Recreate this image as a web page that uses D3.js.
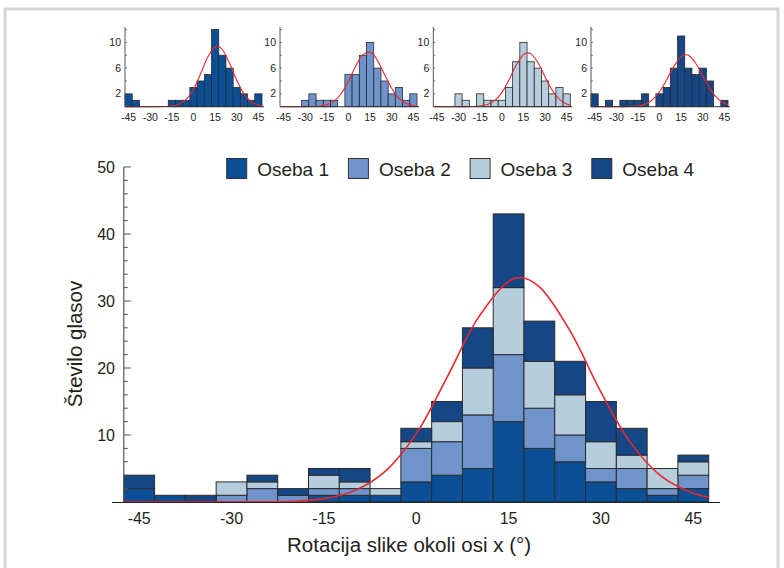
<!DOCTYPE html>
<html>
<head>
<meta charset="utf-8">
<title>Rotacija slike</title>
<style>
  body { margin: 0; background: #fff; }
  svg { display: block; font-family: Arial, "Liberation Sans", sans-serif; }
  .lbl { fill: #231f20; }
</style>
</head>
<body>
<svg id="chart" width="784" height="568"></svg>
<script src="https://d3js.org/d3.v7.min.js"></script>
<script>
// histogram bins (bin centres, degrees), bin width 5
const bins = [-45,-40,-35,-30,-25,-20,-15,-10,-5,0,5,10,15,20,25,30,35,40,45];
const oseba1 = [2,1,0,0,0,0,1,1,1,3,4,5,12,8,6,3,2,1,2];
const oseba2 = [0,0,0,1,2,1,1,1,0,5,5,8,10,6,4,2,3,1,2];
const oseba3 = [0,0,0,2,1,0,2,1,1,1,3,7,10,7,6,4,2,3,2];
const oseba4 = [2,0,1,0,1,1,1,2,0,2,3,6,11,6,5,6,4,0,1];
const names = ['Oseba 1','Oseba 2','Oseba 3','Oseba 4'];
const colors = ['#0a4f96','#6f93cb','#b5cddd','#154686'];

// red fitted curves
const curveX = [-47.5,-40,-35,-30,-25,-20,-15,-10,-5,0,5,10,15,17,20,25,30,35,40,45,47.5];
const curveAll = [0,0,0,0,0.02,0.12,0.5,1.7,4.6,10.2,18.6,27.4,32.9,33.5,32.1,25.5,16.4,8.6,3.7,1.3,0.7];
const curve1 = [0,0,0,0,0,0.02,0.1,0.39,1.15,2.73,5.16,7.76,9.3,9.4,8.9,6.77,4.1,1.99,0.77,0.24,0.12];
const curve2 = [0,0,0,0,0.02,0.08,0.29,0.86,2.05,3.98,6.3,8.1,8.48,8.2,7.22,5.0,2.82,1.29,0.48,0.15,0.07];
const curve3 = [0,0,0,0,0,0.02,0.09,0.33,0.94,2.2,4.18,6.45,8.1,8.35,8.26,6.88,4.63,2.55,1.14,0.41,0.23];
const curve4 = [0,0,0,0,0,0.03,0.13,0.4,1.06,2.32,4.19,6.28,7.8,8.05,8.0,6.8,4.78,2.78,1.34,0.54,0.32];

const xTicks = [-45,-30,-15,0,15,30,45];
const yTicksMain = [10,20,30,40,50];
const yTicksSmall = [2,6,10];

const series = [oseba1, oseba2, oseba3, oseba4];
const curves = [curve1, curve2, curve3, curve4];

const svg = d3.select('#chart');

// light frame
svg.append('rect')
  .attr('x', 5).attr('y', 9).attr('width', 773).attr('height', 570)
  .attr('fill', 'none').attr('stroke', '#d6d6d6').attr('stroke-width', 3);

// ---------- main chart ----------
const x = d3.scaleLinear().domain([-47.5, 47.5]).range([123.8, 708.7]);
const y = d3.scaleLinear().domain([0, 50]).range([502, 167]);
const bw = x(5) - x(0);

const table = bins.map((b, i) => {
  const row = {bin: b};
  names.forEach((n, k) => row[n] = series[k][i]);
  return row;
});
const stacked = d3.stack().keys(names)(table);

const layers = svg.append('g');
stacked.forEach((s, k) => {
  layers.selectAll(null)
    .data(s.filter(d => d[1] > d[0]))
    .enter().append('rect')
    .attr('x', d => x(d.data.bin) - bw / 2)
    .attr('y', d => y(d[1]))
    .attr('width', bw)
    .attr('height', d => y(d[0]) - y(d[1]))
    .attr('fill', colors[k])
    .attr('stroke', '#2b2b2b')
    .attr('stroke-width', 1);
});

const line = d3.line().curve(d3.curveCatmullRom.alpha(0.5));

svg.append('path')
  .attr('d', line(curveX.map((c, i) => [x(c), y(curveAll[i])])))
  .attr('fill', 'none').attr('stroke', '#e8262b').attr('stroke-width', 1.6);

// x axis
svg.append('line')
  .attr('x1', 112).attr('x2', 720).attr('y1', 502.5).attr('y2', 502.5)
  .attr('stroke', '#222').attr('stroke-width', 1.2);
svg.selectAll(null).data(xTicks).enter().append('text')
  .attr('class', 'lbl')
  .attr('x', d => x(d)).attr('y', 524)
  .attr('text-anchor', 'middle').attr('font-size', 16)
  .text(d => d);

// y axis
svg.append('line')
  .attr('x1', x(-47.5)).attr('x2', x(-47.5)).attr('y1', y(50)).attr('y2', y(0))
  .attr('stroke', '#555').attr('stroke-width', 1.2);
svg.selectAll(null).data(d3.range(2, 51, 2)).enter().append('line')
  .attr('x1', x(-47.5)).attr('x2', d => x(-47.5) + (d % 10 === 0 ? 7 : 4))
  .attr('y1', d => y(d)).attr('y2', d => y(d))
  .attr('stroke', '#555').attr('stroke-width', 1);
svg.selectAll(null).data(yTicksMain).enter().append('text')
  .attr('class', 'lbl')
  .attr('x', 115).attr('y', d => y(d) + 6)
  .attr('text-anchor', 'end').attr('font-size', 16)
  .text(d => d);

svg.append('text').attr('class', 'lbl')
  .attr('transform', 'translate(82,344) rotate(-90)')
  .attr('text-anchor', 'middle').attr('font-size', 20.5)
  .text('Število glasov');

svg.append('text').attr('class', 'lbl')
  .attr('x', 409).attr('y', 552)
  .attr('text-anchor', 'middle').attr('font-size', 20.5)
  .text('Rotacija slike okoli osi x (°)');

// legend
const legend = svg.append('g');
names.forEach((n, k) => {
  const lx = 226.7 + k * 121.7;
  legend.append('rect')
    .attr('x', lx).attr('y', 158.5).attr('width', 20).attr('height', 20)
    .attr('fill', colors[k]).attr('stroke', '#333').attr('stroke-width', 1);
  legend.append('text').attr('class', 'lbl')
    .attr('x', lx + 30.5).attr('y', 175.5)
    .attr('font-size', 19)
    .text(n);
});

// ---------- small charts ----------
const smallLeft = [125, 280, 433.3, 591];
const ys = d3.scaleLinear().domain([0, 12.4]).range([106.7, 27]);

series.forEach((data, k) => {
  const xs = d3.scaleLinear().domain([-47.5, 47.5]).range([smallLeft[k], smallLeft[k] + 137]);
  const sbw = xs(5) - xs(0);
  const g = svg.append('g');

  g.selectAll(null)
    .data(bins.map((b, i) => ({bin: b, v: data[i]})).filter(d => d.v > 0))
    .enter().append('rect')
    .attr('x', d => xs(d.bin) - sbw / 2)
    .attr('y', d => ys(d.v))
    .attr('width', sbw)
    .attr('height', d => ys(0) - ys(d.v))
    .attr('fill', colors[k])
    .attr('stroke', '#2b2b2b')
    .attr('stroke-width', 0.8);

  g.append('path')
    .attr('d', line(curveX.map((c, i) => [xs(c), ys(curves[k][i])])))
    .attr('fill', 'none').attr('stroke', '#e8262b').attr('stroke-width', 1.1);

  g.append('line')
    .attr('x1', xs(-47.5)).attr('x2', xs(47.5) + 2).attr('y1', ys(0)).attr('y2', ys(0))
    .attr('stroke', '#333').attr('stroke-width', 1);
  g.append('line')
    .attr('x1', xs(-47.5)).attr('x2', xs(-47.5)).attr('y1', ys(0)).attr('y2', ys(12.4))
    .attr('stroke', '#555').attr('stroke-width', 1);
  g.selectAll(null).data(d3.range(2, 13, 2)).enter().append('line')
    .attr('x1', xs(-47.5)).attr('x2', xs(-47.5) + 2)
    .attr('y1', d => ys(d)).attr('y2', d => ys(d))
    .attr('stroke', '#555').attr('stroke-width', 0.8);
  g.selectAll(null).data(yTicksSmall).enter().append('text')
    .attr('class', 'lbl')
    .attr('x', xs(-47.5) - 4).attr('y', d => ys(d) + 3.5)
    .attr('text-anchor', 'end').attr('font-size', 10.5)
    .text(d => d);
  g.selectAll(null).data(xTicks).enter().append('text')
    .attr('class', 'lbl')
    .attr('x', d => xs(d)).attr('y', 120.5)
    .attr('text-anchor', 'middle').attr('font-size', 10.5)
    .text(d => d);
});
</script>
</body>
</html>
